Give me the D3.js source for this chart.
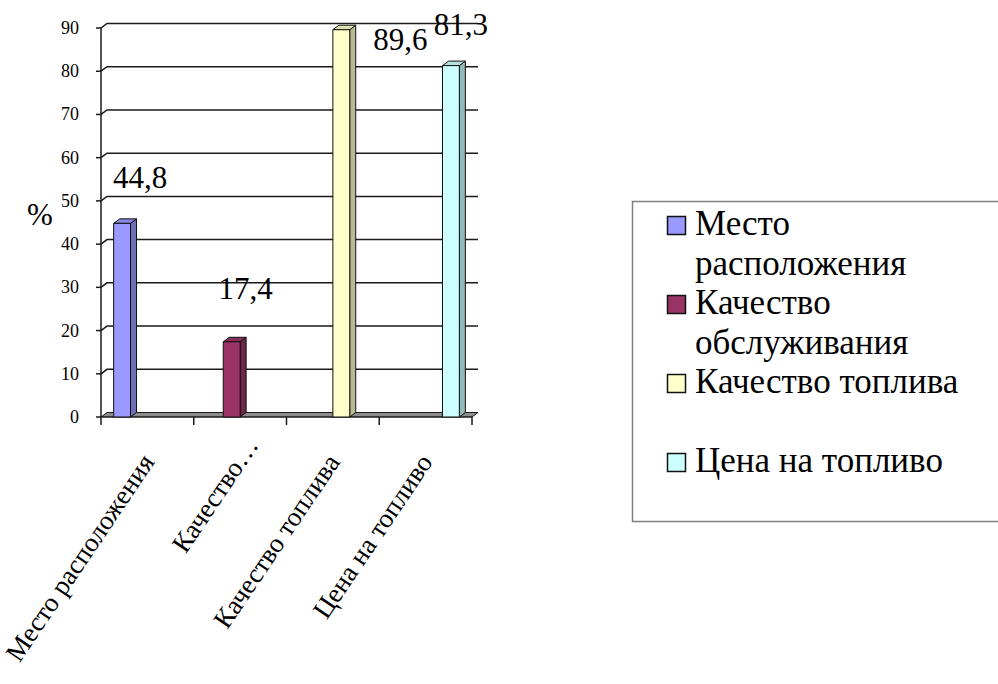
<!DOCTYPE html>
<html><head><meta charset="utf-8"><script src="https://cdn.jsdelivr.net/npm/d3@7"></script>
<style>
  @font-face { font-family: 'ChartSerif'; src: local('Liberation Serif'), local('LiberationSerif'), local('Times New Roman'); }
  #s text { font-family: 'Liberation Serif', 'ChartSerif', 'Times New Roman' !important; }
</style>
</head>
<body style="margin:0">
<svg id="s" width="998" height="684"></svg>
<script>
// Survey results: share of respondents (%) naming each factor
const categories = ["Место расположения", "Качество обслуживания", "Качество топлива", "Цена на топливо"];
const axisLabels = ["Место расположения", "Качество…", "Качество топлива", "Цена на топливо"];
const seriesNames = ["Место расположения", "Качество обслуживания", "Качество топлива", "Цена на топливо"];
const values = [44.8, 17.4, 89.6, 81.3];
const valueLabels = ["44,8", "17,4", "89,6", "81,3"];
const yTicks = [0, 10, 20, 30, 40, 50, 60, 70, 80, 90];
const legendLines = [["Место", "расположения"], ["Качество", "обслуживания"], ["Качество топлива"], ["Цена на топливо"]];
const colors = ["#9999FF", "#993366", "#FFFFCC", "#CCFFFF"];

const SERIF = "'Liberation Serif', 'ChartSerif', 'Times New Roman'";
const svg = d3.select("#s");

// plot frame and pseudo-3D depth
const plot = { left: 101, right: 472, top: 28, bottom: 417 };
const depth = { dx: 6, dy: -4.5 };

const y = d3.scaleLinear().domain([0, 90]).range([plot.bottom, plot.top]);
const x = d3.scaleBand().domain(categories).range([plot.left, plot.right]).padding(0);
const xs = d3.scaleBand().domain(seriesNames).range([0, x.bandwidth()]).paddingInner(0).paddingOuter(0.75);

function serif(sel) {
  return sel.attr("font-family", SERIF).style("font-family", SERIF, "important");
}

// back-wall grid lines with the short side-wall diagonals
svg.append("g").selectAll("path").data(yTicks.filter(v => v > 0)).join("path")
  .attr("d", v => `M${plot.left},${y(v)} L${plot.left + depth.dx},${y(v) + depth.dy} L${plot.right + depth.dx},${y(v) + depth.dy}`)
  .attr("fill", "none").attr("stroke", "#1a1a1a").attr("stroke-width", 1.5);

// floor
svg.append("path")
  .attr("d", `M${plot.left},${y(0)} L${plot.left + depth.dx},${y(0) + depth.dy} L${plot.right + depth.dx},${y(0) + depth.dy} L${plot.right},${y(0)} Z`)
  .attr("fill", "#8c8c8c").attr("stroke", "#1a1a1a").attr("stroke-width", 1);

// value axis
svg.append("line")
  .attr("x1", plot.left).attr("x2", plot.left)
  .attr("y1", y(0)).attr("y2", y(90))
  .attr("stroke", "#1a1a1a").attr("stroke-width", 1.5);
svg.append("g").selectAll("line").data(yTicks).join("line")
  .attr("x1", plot.left - 5).attr("x2", plot.left)
  .attr("y1", v => y(v)).attr("y2", v => y(v))
  .attr("stroke", "#1a1a1a").attr("stroke-width", 1.5);
serif(svg.append("g").selectAll("text").data(yTicks).join("text"))
  .attr("x", 79).attr("y", v => y(v) + 6)
  .attr("font-size", 18)
  .attr("text-anchor", "end")
  .text(v => String(v));
serif(svg.append("text"))
  .attr("x", 40).attr("y", 225)
  .attr("font-size", 31)
  .attr("text-anchor", "middle")
  .text("%");

// category axis ticks
const bounds = categories.map(c => x(c)).concat([plot.right]);
svg.append("g").selectAll("line").data(bounds).join("line")
  .attr("x1", d => d).attr("x2", d => d)
  .attr("y1", y(0)).attr("y2", y(0) + 8)
  .attr("stroke", "#1a1a1a").attr("stroke-width", 1.5);
svg.append("line")
  .attr("x1", plot.left).attr("x2", plot.right)
  .attr("y1", y(0)).attr("y2", y(0))
  .attr("stroke", "#1a1a1a").attr("stroke-width", 1);

// rotated category labels (the shortened one sits further along its baseline)
const angle = -56;
const rad = angle * Math.PI / 180;
const alongShift = [0, 20, 0, 0];
serif(svg.append("g").selectAll("text").data(axisLabels).join("text"))
  .attr("transform", (d, i) => {
    const cx = x(categories[i]) + x.bandwidth() / 2 + 8 + alongShift[i] * Math.cos(rad);
    const cy = y(0) + 45 + alongShift[i] * Math.sin(rad);
    return `translate(${cx},${cy}) rotate(${angle})`;
  })
  .attr("font-size", 27)
  .attr("text-anchor", "end")
  .text(d => d);

// bars: one series per category, drawn as boxes
const bw = xs.bandwidth();
const bars = svg.append("g").selectAll("g").data(values).join("g")
  .attr("stroke", "#111").attr("stroke-width", 1).attr("stroke-linejoin", "round");
const bx = i => x(categories[i]) + xs(seriesNames[i]);
bars.append("path")
  .attr("d", (v, i) => `M${bx(i) + bw},${y(0)} L${bx(i) + bw + depth.dx},${y(0) + depth.dy} L${bx(i) + bw + depth.dx},${y(v) + depth.dy} L${bx(i) + bw},${y(v)} Z`)
  .attr("fill", (v, i) => d3.color(colors[i]).darker(0.9).formatHex());
bars.append("path")
  .attr("d", (v, i) => `M${bx(i)},${y(v)} L${bx(i) + depth.dx},${y(v) + depth.dy} L${bx(i) + bw + depth.dx},${y(v) + depth.dy} L${bx(i) + bw},${y(v)} Z`)
  .attr("fill", (v, i) => d3.color(colors[i]).darker(0.35).formatHex());
bars.append("rect")
  .attr("x", (v, i) => bx(i)).attr("y", v => y(v))
  .attr("width", bw).attr("height", v => y(0) - y(v))
  .attr("fill", (v, i) => colors[i]);

// value labels, nudged from each bar top
const labelNudge = [[18, -35], [14, -43], [59, 20], [10, -31]];
serif(svg.append("g").selectAll("text").data(values).join("text"))
  .attr("x", (v, i) => bx(i) + bw / 2 + labelNudge[i][0])
  .attr("y", (v, i) => y(v) + labelNudge[i][1])
  .attr("font-size", 31)
  .attr("text-anchor", "middle")
  .text((v, i) => valueLabels[i]);

// legend
const lg = svg.append("g");
lg.append("rect")
  .attr("x", 632.5).attr("y", 201.5).attr("width", 380).attr("height", 320)
  .attr("fill", "#fff").attr("stroke", "#7f7f7f").attr("stroke-width", 1.5);
const lineH = 39.5;
const base = i => 235 + i * 2 * lineH;
lg.selectAll("rect.sw").data(seriesNames).join("rect")
  .attr("class", "sw")
  .attr("x", 667.5).attr("y", (s, i) => base(i) - 18.5).attr("width", 18).attr("height", 18)
  .attr("fill", (s, i) => colors[i]).attr("stroke", "#111").attr("stroke-width", 1.5);
const legendRows = legendLines.flatMap((lines, i) => lines.map((t, j) => ({ t, yy: base(i) + j * lineH })));
serif(lg.selectAll("text").data(legendRows).join("text"))
  .attr("x", 695).attr("y", d => d.yy)
  .attr("font-size", 35)
  .text(d => d.t);
</script></body></html>
